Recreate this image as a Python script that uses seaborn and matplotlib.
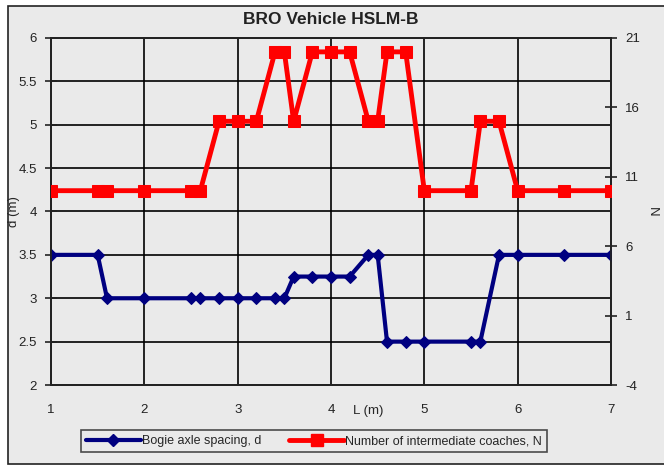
import matplotlib
matplotlib.use("Agg")
import matplotlib.pyplot as plt
import seaborn as sns
import pandas as pd
from matplotlib.patches import Rectangle
from matplotlib.lines import Line2D

# Span length L (m)
span_L = [1, 1.5, 1.6, 2, 2.5, 2.6, 2.8, 3, 3.2, 3.4, 3.5, 3.6, 3.8,
          4, 4.2, 4.4, 4.5, 4.6, 4.8, 5, 5.5, 5.6, 5.8, 6, 6.5, 7]
# Bogie axle spacing d (m)
axle_d = [3.5, 3.5, 3, 3, 3, 3, 3, 3, 3, 3, 3, 3.25, 3.25,
          3.25, 3.25, 3.5, 3.5, 2.5, 2.5, 2.5, 2.5, 2.5, 3.5, 3.5, 3.5, 3.5]
# Number of intermediate coaches N
coaches_N = [10, 10, 10, 10, 10, 10, 15, 15, 15, 20, 20, 15, 20,
             20, 20, 15, 15, 20, 20, 10, 10, 15, 15, 10, 10, 10]

left_ticks = [2, 2.5, 3, 3.5, 4, 4.5, 5, 5.5, 6]
right_ticks = [-4, 1, 6, 11, 16, 21]
x_ticks = [1, 2, 3, 4, 5, 6, 7]

sns.set_style("white")
plt.rcParams["font.family"] = ["Liberation Sans", "DejaVu Sans"]
plt.rcParams["axes.unicode_minus"] = False

df = pd.DataFrame({"L": span_L, "d": axle_d, "N": coaches_N})

bg = "#EAEAEA"
fig = plt.figure(figsize=(6.64, 4.69), dpi=100, facecolor="white")
fig.patches.append(Rectangle((8 / 664, 1 - 464 / 469), 1.2, (464 - 6) / 469,
                             transform=fig.transFigure, facecolor=bg,
                             edgecolor="#222222", linewidth=1.2, zorder=-10))

W, H = 664, 469
ax = fig.add_axes([51 / W, 1 - 385 / H, (611 - 51) / W, (385 - 38) / H])
ax.set_facecolor(bg)

blue = "#000080"
red = "#FF0000"

sns.lineplot(data=df, x="L", y="d", ax=ax, color=blue, linewidth=3,
             marker="D", markersize=6.5, markeredgecolor=blue,
             estimator=None, sort=False, legend=False, zorder=3)

ax2 = ax.twinx()
sns.lineplot(data=df, x="L", y="N", ax=ax2, color=red, linewidth=3.5,
             marker="s", markersize=8.5, markeredgecolor=red,
             estimator=None, sort=False, legend=False, zorder=3)

ax.set_xlim(1, 7)
ax.set_ylim(2, 6)
ax2.set_ylim(-4, 21)
ax.set_xticks(x_ticks)
ax.set_yticks(left_ticks)
ax2.set_yticks(right_ticks)
ax.set_yticklabels([f"{v:g}" for v in left_ticks])
ax2.set_yticklabels([f"{v:g}" for v in right_ticks])

ax.grid(True, color="black", linewidth=1.2)
ax.set_axisbelow(True)
for a in (ax, ax2):
    for s in a.spines.values():
        s.set_color("#222222")
        s.set_linewidth(1.3)

ax.tick_params(axis="both", direction="inout", length=8, width=1.2,
               labelsize=9.5, colors="#222222", pad=6)
ax.tick_params(axis="x", pad=10)
ax2.tick_params(axis="y", direction="inout", length=8, width=1.2,
                labelsize=9.5, colors="#222222", pad=6)

ax.set_xlabel("")
ax.set_ylabel("d (m)", fontsize=9.5)
ax.yaxis.set_label_coords((20 - 51) / 560, 0.5)
ax2.set_ylabel("N", fontsize=9.5, rotation=-90, va="center")
ax2.yaxis.set_label_coords((652 - 51) / 560, 0.5)
fig.text(368 / W, 1 - 411 / H, "L (m)", fontsize=9.5, ha="center", va="center")

fig.text(331 / W, 1 - 20 / H, "BRO Vehicle HSLM-B", fontsize=12.5,
         fontweight="bold", ha="center", va="center", color="#222222")

handles = [
    Line2D([], [], color=blue, linewidth=3, marker="D", markersize=6.5),
    Line2D([], [], color=red, linewidth=3.5, marker="s", markersize=8.5),
]
leg = fig.legend(handles, ["Bogie axle spacing, d",
                           "Number of intermediate coaches, N"],
                 loc="center", bbox_to_anchor=(314 / W, 1 - 441 / H),
                 ncol=2, frameon=True, fancybox=False, fontsize=9,
                 handlelength=4.4, handletextpad=0.1, columnspacing=2.2,
                 borderpad=0.4, borderaxespad=0)
leg.get_frame().set_edgecolor("#222222")
leg.get_frame().set_linewidth(1.2)
leg.get_frame().set_facecolor(bg)

fig.savefig("out.png", dpi=100, facecolor="white")
